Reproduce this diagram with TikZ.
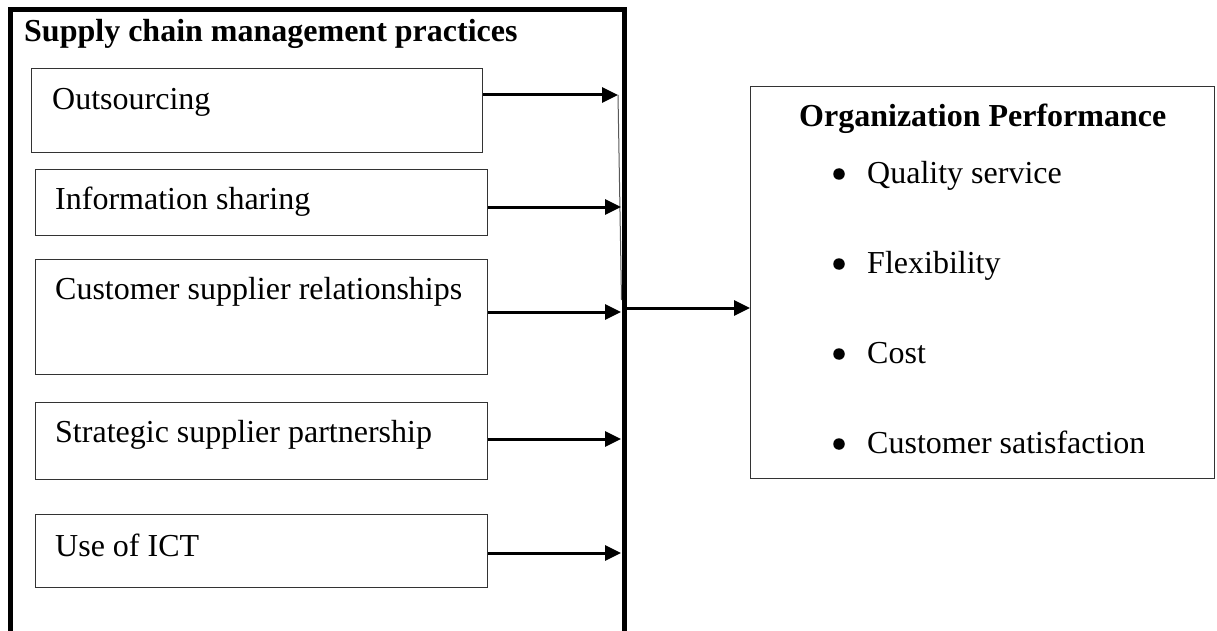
\documentclass[tikz,border=0pt]{standalone}
\usepackage{fontspec}
\setmainfont{Liberation Serif}
\usetikzlibrary{arrows.meta}
\newcommand{\bigfs}{\fontsize{32}{38}\selectfont}
\begin{document}
\begin{tikzpicture}[x=1pt,y=-1pt,
  frame/.style={line width=5pt, black},
  boxx/.style={draw=black!80, line width=1.4pt, rectangle, anchor=north west, inner sep=0pt},
  lbl/.style={anchor=base west, inner sep=0pt, font=\bigfs},
  hd/.style={anchor=base west, inner sep=0pt, font=\bigfs\bfseries},
  bul/.style={circle, fill=black, inner sep=0pt, minimum size=11.5pt},
  arr/.style={line width=3pt, -{Triangle[length=16pt,width=15pt]}},
  thinl/.style={line width=1pt, black!65}]
\useasboundingbox (0,0) rectangle (1217,631);
% outer frame (open at bottom)
\draw[frame] (10,631) -- (10,10) -- (624,10) -- (624,631);
\node[hd] (title) at (24,42) {Supply chain management practices};
% inner boxes
\node[boxx, minimum width=451pt, minimum height=84pt] (b1) at (31,68) {};
\node[boxx, minimum width=452pt, minimum height=66pt] (b2) at (35,169) {};
\node[boxx, minimum width=452pt, minimum height=115pt] (b3) at (35,259) {};
\node[boxx, minimum width=452pt, minimum height=77pt] (b4) at (35,402) {};
\node[boxx, minimum width=452pt, minimum height=73pt] (b5) at (35,514) {};
\node[lbl] (l1) at (52,110) {Outsourcing};
\node[lbl] (l2) at (55,209) {Information sharing};
\node[lbl] (l3) at (55,299) {Customer supplier relationships};
\node[lbl] (l4) at (55,442) {Strategic supplier partnership};
\node[lbl] (l5) at (55,556) {Use of ICT};
% arrow targets on the frame
\coordinate (t1) at (618,95);
\coordinate (t2) at (621,207);
\coordinate (t3) at (621,312);
\coordinate (t4) at (621,439);
\coordinate (t5) at (621,553);
\coordinate (tb) at (621.5,300);
\draw[thinl] (t1) -- (tb);
\draw[arr] (b1.east |- t1) -- (t1);
\draw[arr] (b2.east |- t2) -- (t2);
\draw[arr] (b3.east |- t3) -- (t3);
\draw[arr] (b4.east |- t4) -- (t4);
\draw[arr] (b5.east |- t5) -- (t5);
% right box
\node[boxx, minimum width=464pt, minimum height=392pt] (op) at (750,86) {};
\coordinate (j) at (626,308);
\draw[arr] (j) -- (op.west |- j);
\node[hd] (optitle) at (799,127) {Organization Performance};
\node[bul] (d1) at (839,174) {};
\node[bul] (d2) at (839,264) {};
\node[bul] (d3) at (839,354) {};
\node[bul] (d4) at (839,444) {};
\node[lbl] (i1) at (867,183) {Quality service};
\node[lbl] (i2) at (867,273) {Flexibility};
\node[lbl] (i3) at (867,363) {Cost};
\node[lbl] (i4) at (867,453) {Customer satisfaction};
\end{tikzpicture}
\end{document}
